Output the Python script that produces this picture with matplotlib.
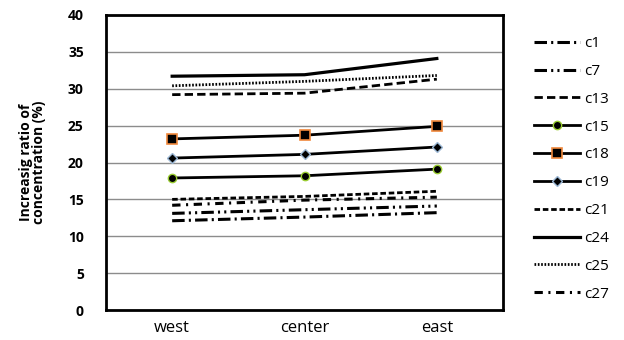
import matplotlib
matplotlib.use("Agg")
import matplotlib.pyplot as plt

plt.rcParams['font.family'] = ['Open Sans', 'DejaVu Sans']
plt.rcParams['lines.scale_dashes'] = False

# data
sites = ['west', 'center', 'east']
names = ['c1', 'c7', 'c13', 'c15', 'c18', 'c19', 'c21', 'c24', 'c25', 'c27']
c1 = [12.1, 12.6, 13.2]
c7 = [13.1, 13.6, 14.1]
c13 = [29.2, 29.4, 31.3]
c15 = [17.9, 18.2, 19.1]
c18 = [23.2, 23.7, 24.9]
c19 = [20.6, 21.1, 22.1]
c21 = [15.0, 15.4, 16.1]
c24 = [31.7, 31.9, 34.1]
c25 = [30.4, 31.0, 31.8]
c27 = [14.2, 14.9, 15.3]
series = [c1, c7, c13, c15, c18, c19, c21, c24, c25, c27]

styles = {
    'c1':  dict(ls=(0, (9, 3, 1.5, 3)), lw=2.2),
    'c7':  dict(ls=(0, (9, 3, 1.5, 3, 1.5, 3)), lw=2.2),
    'c13': dict(ls=(0, (6, 3)), lw=2),
    'c15': dict(ls='-', lw=2, marker='o', ms=6, mfc='black', mec='#9acd32', mew=1),
    'c18': dict(ls='-', lw=2, marker='s', ms=6.5, mfc='black', mec='#f0883c', mew=1.2),
    'c19': dict(ls='-', lw=2, marker='D', ms=5.5, mfc='black', mec='#9bb7d4', mew=1),
    'c21': dict(ls=(0, (4, 2)), lw=2),
    'c24': dict(ls='-', lw=2.3),
    'c25': dict(ls=(0, (1.2, 1.2)), lw=2),
    'c27': dict(ls=(0, (6, 4, 1.5, 4)), lw=2.2),
}

fig = plt.figure(figsize=(6.24, 3.40), dpi=100)
ax = fig.add_axes([106/624, 30/340, 397/624, 295/340])

x = range(len(sites))
for name, vals in zip(names, series):
    ax.plot(x, vals, color='black', label=name, **styles[name])

ax.set_xlim(-0.5, 2.5)
ax.set_ylim(0, 40)
ax.set_yticks(range(0, 41, 5))
ax.yaxis.grid(True, color='#8c8c8c', lw=1)
ax.set_axisbelow(True)
ax.set_xticks(list(x))
ax.set_xticklabels(sites, fontsize=12)
for lab in ax.get_yticklabels():
    lab.set_fontweight('bold')
    lab.set_fontsize(10)
ax.tick_params(axis='y', length=0, pad=16)
ax.tick_params(axis='x', length=0, pad=7)
for sp in ax.spines.values():
    sp.set_linewidth(2)
    sp.set_color('black')

ax.set_ylabel('Increasig ratio of\nconcentration (%)', fontsize=10, fontweight='bold',
              linespacing=0.9, labelpad=16)

fig.legend(loc='upper left', bbox_to_anchor=(528/624, 1 - 30/340), frameon=False,
           fontsize=11, handlelength=3.0, handletextpad=0.25, labelspacing=0.84,
           borderaxespad=0)

fig.savefig('out.png', dpi=100)
